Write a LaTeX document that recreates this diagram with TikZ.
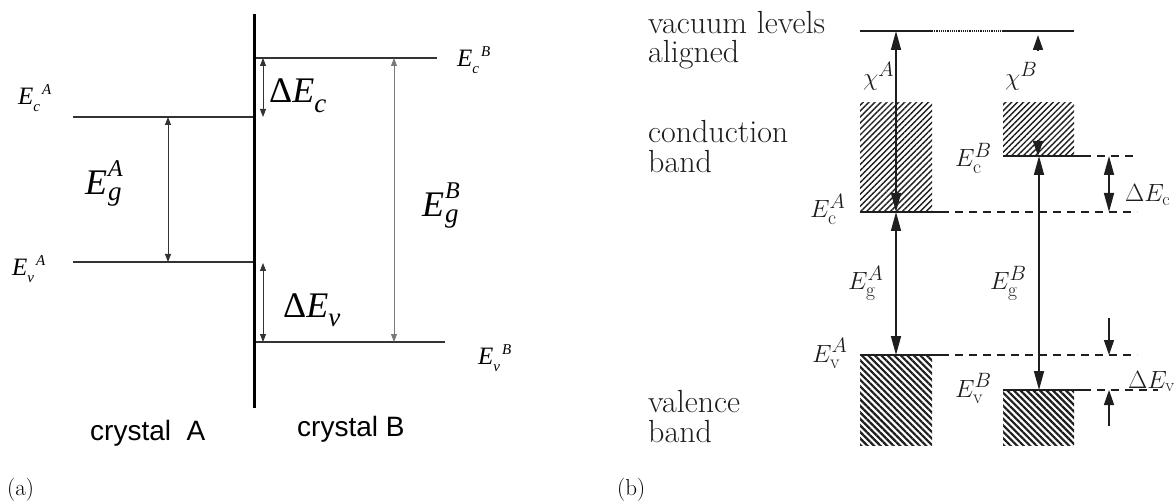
\documentclass[tikz,border=0pt]{standalone}
\usepackage{fontspec}
\usetikzlibrary{arrows.meta,patterns.meta}
\newfontfamily\tnr{Liberation Serif}
\newfontfamily\arl{Liberation Sans}
\definecolor{dgr}{HTML}{333333}
\definecolor{mgr}{HTML}{7A7A7A}
\definecolor{ink}{HTML}{1E1E1E}
\newcommand{\fs}[1]{\fontsize{#1}{#1}\selectfont}
\newcommand{\lvl}[2]{{\tnr\fs{25}\itshape E\raisebox{-7pt}{\fs{15}#1}\hspace{2pt}\raisebox{10pt}{\fs{15}#2}}}
\newcommand{\biglab}[1]{{\tnr\fs{36}\itshape E\hspace{1pt}\rlap{\raisebox{18pt}{\fs{24}#1}}\raisebox{-6pt}{\fs{27}g}}}
\newcommand{\dlab}[2]{{\tnr\fs{36}Δ\itshape E\raisebox{-#2}{\fs{27}#1}}}
\tikzset{
  thinlvl/.style={draw=dgr, line width=1.1pt},
  arrA/.style={draw=dgr, line width=0.9pt, {Triangle[length=8pt,width=6pt]}-{Triangle[length=8pt,width=6pt]}},
  lvlB/.style={draw=ink, line width=2pt},
  dashB/.style={draw=ink, line width=1.8pt, dash pattern=on 8pt off 6pt},
  arrB/.style={draw=ink, line width=1.6pt, {Triangle[length=19pt,width=10pt]}-{Triangle[length=19pt,width=10pt]}},
  tipB/.style={draw=ink, line width=1.6pt, -{Triangle[length=15pt,width=10pt]}},
  txtB/.style={anchor=base west, inner sep=0pt, font=\fs{32}, text=ink},
  mathB/.style={anchor=base west, inner sep=0pt, font=\fs{28}, text=ink},
  lab/.style={anchor=base west, inner sep=0pt},
  cond/.style={pattern={Lines[angle=45,distance=4.2pt,line width=1.4pt]}, pattern color=ink},
  vale/.style={pattern={Lines[angle=-45,distance=4.6pt,line width=2.2pt]}, pattern color=ink},
}
\begin{document}
\begin{tikzpicture}[x=1pt,y=-1pt]
\useasboundingbox (0,0) rectangle (1174,502);
% ---------------- panel (a) ----------------
\coordinate (iTop) at (254,14);
\coordinate (iBot) at (254,408);
\coordinate (cBl) at (254,58);  \coordinate (cBr) at (437,58);
\coordinate (cAl) at (73,117);  \coordinate (cAr) at (254,117);
\coordinate (vAl) at (73,262);  \coordinate (vAr) at (254,262);
\coordinate (vBl) at (254,342); \coordinate (vBr) at (445,342);
\coordinate (gAt) at (168,117); \coordinate (gAb) at (168,262);
\coordinate (dct) at (263,58);  \coordinate (dcb) at (263,117);
\coordinate (dvt) at (263,263); \coordinate (dvb) at (263,342);
\coordinate (gBt) at (394,58);  \coordinate (gBb) at (394,342);
\draw[thinlvl] (cBl) -- (cBr);
\draw[thinlvl] (cAl) -- (cAr);
\draw[thinlvl] (vAl) -- (vAr);
\draw[thinlvl] (vBl) -- (vBr);
\draw[arrA] (gAt) -- (gAb);
\draw[arrA] (dct) -- (dcb);
\draw[arrA] (dvt) -- (dvb);
\draw[arrA, draw=mgr] (gBt) -- (gBb);
\draw[line width=3pt] (iTop) -- (iBot);
\node[lab] (lEcA) at (18,105) {\lvl{c}{A}};
\node[lab] (lEvA) at (12,276) {\lvl{v}{A}};
\node[lab] (lEcB) at (457,67) {\lvl{c}{B}};
\node[lab] (lEvB) at (478,364) {\lvl{v}{B}};
\node[lab] (lEgA) at (85,195) {\biglab{A}};
\node[lab] (lEgB) at (422,217) {\biglab{B}};
\node[lab] (lDc) at (269,103) {\dlab{c}{10pt}};
\node[lab] (lDv) at (283,317) {\dlab{v}{9pt}};
\node[lab, font=\arl\fs{28}] (crA) at (90,440) {crystal\ \ A};
\node[lab, font=\arl\fs{28}] (crB) at (297,436) {crystal B};
\node[lab, font=\fs{23}] (capa) at (7,495) {(a)};
% ---------------- panel (b) ----------------
\path[cond] (860,103) rectangle (932,212);
\path[cond] (1003,103) rectangle (1074,156);
\path[vale] (860,355) rectangle (932,445);
\path[vale] (1003,390) rectangle (1074,445);
\coordinate (vacL) at (860,31);  \coordinate (vac1) at (932,31);
\coordinate (vac2) at (1003,31); \coordinate (vacR) at (1074,31);
\draw[lvlB] (vacL) -- (vac1);
\draw[draw=ink, line width=1.2pt, dash pattern=on 1.2pt off 1pt] (vac1) -- (vac2);
\draw[lvlB] (vac2) -- (vacR);
\coordinate (EcAl) at (860,212); \coordinate (EcAm) at (941,212); \coordinate (EcAr) at (1137,212);
\coordinate (EcBl) at (1003,156); \coordinate (EcBm) at (1083,156); \coordinate (EcBr) at (1137,156);
\coordinate (EvAl) at (860,355); \coordinate (EvAm) at (941,355); \coordinate (EvAr) at (1137,355);
\coordinate (EvBl) at (1003,390); \coordinate (EvBm) at (1083,390); \coordinate (EvBr) at (1158,390);
\draw[lvlB] (EcAl) -- (EcAm); \draw[dashB] (EcAm) -- (EcAr);
\draw[lvlB] (EcBl) -- (EcBm); \draw[dashB] (EcBm) -- (EcBr);
\draw[lvlB] (EvAl) -- (EvAm); \draw[dashB] (EvAm) -- (EvAr);
\draw[lvlB] (EvBl) -- (EvBm); \draw[dashB] (EvBm) -- (EvBr);
\coordinate (chAt) at (896,31);  \coordinate (chAb) at (896,212);
\coordinate (gbAb) at (896,355);
\coordinate (chBt0) at (1038,51); \coordinate (chBt) at (1038,35);
\coordinate (chBb0) at (1038,140); \coordinate (chBb) at (1038,156);
\coordinate (gbBt) at (1039,156); \coordinate (gbBb) at (1039,390);
\coordinate (dEct) at (1109,156); \coordinate (dEcb) at (1109,212);
\coordinate (dEv1) at (1109,318); \coordinate (dEv2) at (1109,355);
\coordinate (dEv3) at (1109,426); \coordinate (dEv4) at (1109,390);
\draw[arrB] (chAt) -- (chAb);
\draw[arrB] (chAb) -- (gbAb);
\draw[tipB] (chBt0) -- (chBt);
\draw[tipB] (chBb0) -- (chBb);
\draw[arrB] (gbBt) -- (gbBb);
\draw[arrB] (dEct) -- (dEcb);
\draw[tipB] (dEv1) -- (dEv2);
\draw[tipB] (dEv3) -- (dEv4);
\node[txtB] (t1) at (648,34) {vacuum levels};
\node[txtB] (t2) at (648,63) {aligned};
\node[txtB] (t3) at (648,143) {conduction};
\node[txtB] (t4) at (648,173) {band};
\node[txtB] (t5) at (648,412) {valence};
\node[txtB] (t6) at (648,442) {band};
\node[mathB] (mEcA) at (810,218) {$E_{\mathrm{c}}^{A}$};
\node[mathB] (mEvA) at (812,362) {$E_{\mathrm{v}}^{A}$};
\node[mathB] (mEcB) at (955,167) {$E_{\mathrm{c}}^{B}$};
\node[mathB] (mEvB) at (955,397) {$E_{\mathrm{v}}^{B}$};
\node[mathB] (mEgA) at (848,290) {$E_{\mathrm{g}}^{A}$};
\node[mathB] (mEgB) at (990,290) {$E_{\mathrm{g}}^{B}$};
\node[mathB] (mchA) at (863,86) {$\chi^{A}$};
\node[mathB] (mchB) at (1005,86) {$\chi^{B}$};
\node[mathB, font=\fs{26}] (mDc) at (1125,202) {$\Delta E_{\mathrm{c}}$};
\node[mathB, font=\fs{26}] (mDv) at (1128,388) {$\Delta E_{\mathrm{v}}$};
\node[lab, font=\fs{23}] (capb) at (617,495) {(b)};
\end{tikzpicture}
\end{document}
